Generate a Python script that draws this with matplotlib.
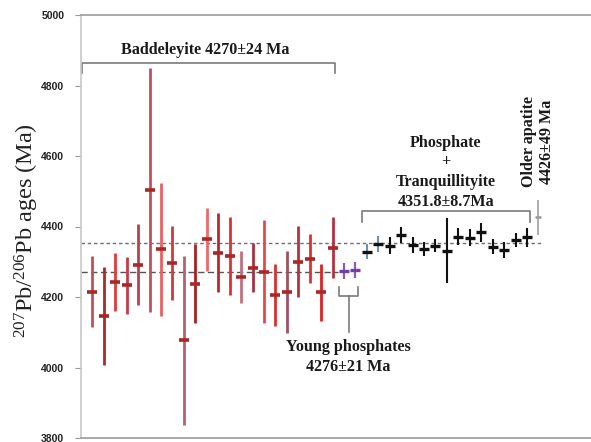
import matplotlib
matplotlib.use("Agg")
import matplotlib.pyplot as plt
import numpy as np

# ---------------- data ----------------
bad_age = [4215, 4147, 4243, 4233, 4292, 4503, 4335, 4297, 4077, 4237, 4364,
           4325, 4317, 4257, 4283, 4272, 4206, 4215, 4300, 4309, 4213, 4340]
bad_err = [101, 139, 83, 80, 115, 346, 189, 105, 240, 112, 89,
           112, 111, 73, 70, 146, 87, 116, 101, 70, 80, 86]
bad_colors = ["#c0505a", "#b02828", "#e03a3a", "#c83a4a", "#b84050", "#c05060",
              "#ec6060", "#d03a3a", "#b86070", "#a82020", "#f06868", "#c02828",
              "#e03030", "#c07080", "#a83040", "#e84848", "#d83030", "#a05060",
              "#b83040", "#e03030", "#e02020", "#b83040"]

young_age = [4274, 4276]
young_err = [23, 23]

phos_age = [4329, 4350, 4346, 4376, 4347, 4336, 4346, 4331, 4371, 4368,
            4383, 4343, 4333, 4362, 4369]
phos_err = [22, 22, 23, 23, 22, 19, 18, 92, 24, 24, 26, 22, 22, 20, 27]
phos_colors = ["#6f8fb0", "#6f8fb0"] + ["#111111"] * 13

old_age = [4426]
old_err = [49]

bad_mean = 4270
phos_mean = 4351.8
yticks = [3800, 4000, 4200, 4400, 4600, 4800, 5000]

# ---------------- figure ----------------
plt.rcParams['mathtext.fontset'] = 'custom'
plt.rcParams['mathtext.rm'] = 'Liberation Serif'
plt.rcParams['mathtext.it'] = 'Liberation Serif:italic'

fig = plt.figure(figsize=(5.91, 4.42), dpi=100)
W, H = 591, 442
ax = fig.add_axes([81 / W, 1 - 438 / H, (591 - 81) / W, (438 - 15) / H])

n_bad = len(bad_age)
x_bad = np.arange(1, n_bad + 1)
x_young = np.arange(n_bad + 1, n_bad + 1 + len(young_age))
x_phos = np.arange(x_young[-1] + 1, x_young[-1] + 1 + len(phos_age))
x_old = np.array([x_phos[-1] + 1])

# reference lines
ax.plot([0, 40.3], [phos_mean, phos_mean], color="#6a7078", lw=1.0,
        ls=(0, (2.5, 2)), zorder=1)
ax.plot([0, 22.5], [bad_mean, bad_mean], color="#555555", lw=1.0,
        ls=(0, (4.5, 2.5)), zorder=1)

# baddeleyite
ba = np.array(bad_age); be = np.array(bad_err)
ax.vlines(x_bad, ba - be, ba + be, colors=bad_colors, lw=2.0, zorder=2)
ax.plot(x_bad, ba, ls="none", marker="_", ms=7.5, mew=2.6, color="#a82828", zorder=3)

# young phosphates
ya = np.array(young_age); ye = np.array(young_err)
ax.vlines(x_young, ya - ye, ya + ye, colors="#8a5cc0", lw=1.6, zorder=2)
ax.plot(x_young, ya, ls="none", marker="_", ms=7, mew=2.4, color="#7040a8", zorder=3)

# phosphate + tranquillityite
pa = np.array(phos_age); pe = np.array(phos_err)
ax.vlines(x_phos, pa - pe, pa + pe, colors=phos_colors, lw=1.5, zorder=2)
ax.plot(x_phos, pa, ls="none", marker="_", ms=7.5, mew=2.4, color="#111111", zorder=3)

# older apatite
oa = np.array(old_age); oe = np.array(old_err)
ax.vlines(x_old, oa - oe, oa + oe, colors="#b0b0b0", lw=1.5, zorder=2)
ax.plot(x_old, oa, ls="none", marker="_", ms=5, mew=1.8, color="#999999", zorder=3)

# axes styling
ax.set_xlim(0, 44.6)
ax.set_ylim(3800, 5000)
ax.set_yticks(yticks)
ax.set_yticklabels([str(t) for t in yticks], fontfamily="Liberation Sans",
                   fontweight="bold", fontsize=7.5, color="#222222")
ax.tick_params(axis="y", length=4, width=0.8, color="#999999", pad=8)
ax.set_xticks([])
ax.spines["right"].set_visible(False)
ax.spines["top"].set_color("#999999")
ax.spines["bottom"].set_color("#999999")
ax.spines["left"].set_color("#c8c8c8")
for s in ("top", "bottom", "left"):
    ax.spines[s].set_linewidth(1.2)

fig.text(27 / W, 1 - 231 / H, r"$^{207}$Pb/$^{206}$Pb ages (Ma)",
         rotation=90, ha="center", va="center", fontsize=17.5,
         fontfamily="Liberation Serif", color="#222222")

tkw = dict(fontfamily="Liberation Serif", fontweight="bold", fontsize=11.6,
           color="#1a1a1a", ha="center", va="center")
bc = "#7a7a7a"

# baddeleyite bracket
ax.plot([0.1, 0.1, 22.17, 22.17], [4836, 4863, 4863, 4836], color=bc, lw=1.2,
        clip_on=False)
ax.text(10.84, 4901, "Baddeleyite 4270±24 Ma", **tkw)

# young phosphates bracket
ax.plot([22.6, 22.6, 24.25, 24.25], [4229, 4203, 4203, 4229], color=bc, lw=1.2)
ax.plot([23.42, 23.42], [4203, 4102], color=bc, lw=1.2)
ax.text(23.4, 4059, "Young phosphates", **tkw)
ax.text(23.4, 4002, "4276±21 Ma", **tkw)

# phosphate bracket
ax.plot([24.53, 24.53, 39.26, 39.26], [4414, 4444, 4444, 4414], color=bc, lw=1.2)
ax.text(31.9, 4638, "Phosphate", **tkw)
ax.text(31.9, 4584, "+", **tkw)
ax.text(31.9, 4527, "Tranquillityite", **tkw)
ax.text(31.9, 4470, "4351.8±8.7Ma", **tkw)

# older apatite
ax.text(39.97, 4640, "Older apatite\n4426±49 Ma", rotation=90,
        multialignment="center", linespacing=1.15, **tkw)

fig.savefig("out.png", dpi=100)
